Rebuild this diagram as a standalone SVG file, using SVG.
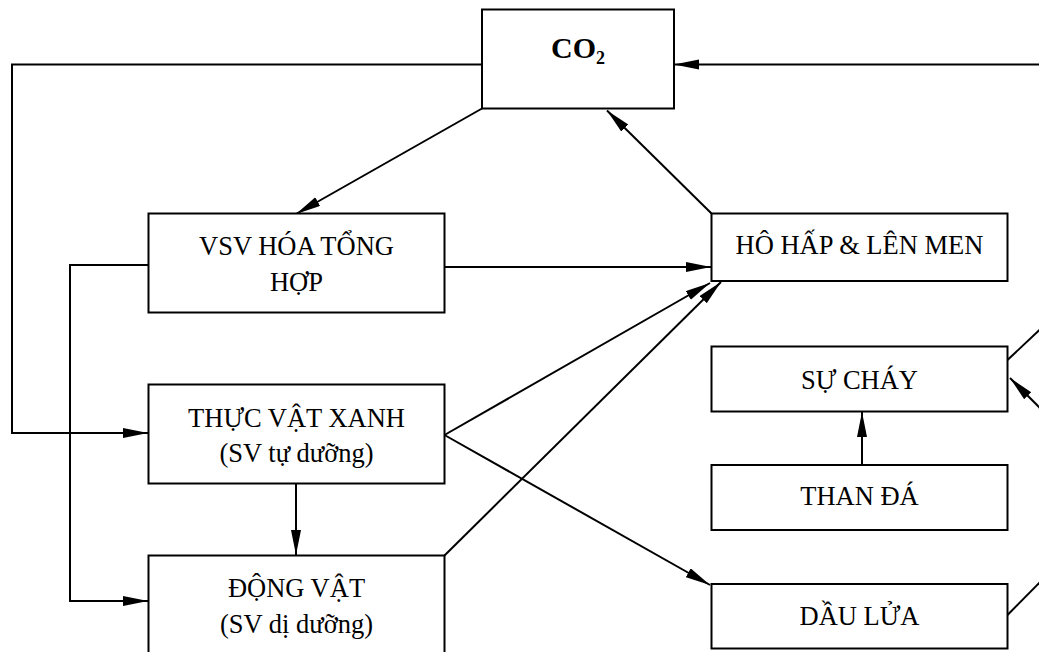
<svg xmlns="http://www.w3.org/2000/svg" width="1039" height="652" viewBox="0 0 1039 652">
  <style>
    .box { fill: #ffffff; stroke: #000000; stroke-width: 2; }
    .lbl { font-family: "Liberation Serif", "Times New Roman", serif; font-size: 26.5px; fill: #000000; text-anchor: middle; }
    .co2 { font-family: "Liberation Serif", "Times New Roman", serif; font-size: 30px; font-weight: bold; fill: #000000; text-anchor: middle; }
    .sub { font-size: 18px; }
    .link { fill: none; stroke: #000000; stroke-width: 2; }
    .arr { marker-end: url(#head); }
  </style>
  <defs>
    <marker id="head" markerUnits="userSpaceOnUse" markerWidth="26" markerHeight="11" refX="25" refY="5" orient="auto">
      <path d="M0,0 L25,5 L0,10 Z" fill="#000000"/>
    </marker>
  </defs>

  <rect width="1039" height="652" fill="#ffffff"/>

  <!-- connectors -->
  <g id="connectors">
    <polyline class="link arr" points="482,64.5 12,64.5 12,433 148,433"/>
    <line class="link arr" x1="1045" y1="64.5" x2="674" y2="64.5"/>
    <line class="link arr" x1="482" y1="108.5" x2="296" y2="214"/>
    <line class="link arr" x1="711.5" y1="213.5" x2="607" y2="110.5"/>
    <line class="link arr" x1="444.5" y1="267" x2="711" y2="267"/>
    <line class="link arr" x1="444.5" y1="435" x2="710" y2="283"/>
    <line class="link arr" x1="444.5" y1="555.5" x2="721" y2="282"/>
    <line class="link arr" x1="444.5" y1="435" x2="710" y2="585"/>
    <line class="link arr" x1="296" y1="483.5" x2="296" y2="555"/>
    <polyline class="link arr" points="148.5,265 70,265 70,601 148,601"/>
    <line class="link arr" x1="862" y1="465" x2="862" y2="412"/>
    <line class="link" x1="1007.5" y1="360" x2="1050" y2="320"/>
    <line class="link arr" x1="1050" y1="418" x2="1010" y2="378"/>
    <line class="link" x1="1007.5" y1="615" x2="1050" y2="572"/>
  </g>

  <!-- nodes -->
  <g id="node-co2">
    <rect class="box" x="482" y="9.5" width="192" height="99"/>
    <text class="co2" x="578" y="57.5">CO<tspan class="sub" dy="6">2</tspan></text>
  </g>
  <g id="node-vsv">
    <rect class="box" x="148.5" y="213.5" width="296" height="99"/>
    <text class="lbl" x="296.5" y="255">VSV HÓA TỔNG</text>
    <text class="lbl" x="296.5" y="290.5">HỢP</text>
  </g>
  <g id="node-thucvat">
    <rect class="box" x="148.5" y="384.5" width="296" height="99"/>
    <text class="lbl" x="296.5" y="426.5">THỰC VẬT XANH</text>
    <text class="lbl" x="296.5" y="461.5">(SV tự dưỡng)</text>
  </g>
  <g id="node-dongvat">
    <rect class="box" x="148.5" y="555.5" width="296" height="110"/>
    <text class="lbl" x="296.5" y="596.5">ĐỘNG VẬT</text>
    <text class="lbl" x="296.5" y="633">(SV dị dưỡng)</text>
  </g>
  <g id="node-hohap">
    <rect class="box" x="711.5" y="213.5" width="296" height="67.5"/>
    <text class="lbl" x="859.5" y="253.5">HÔ HẤP &amp; LÊN MEN</text>
  </g>
  <g id="node-suchay">
    <rect class="box" x="711.5" y="346.5" width="296" height="65"/>
    <text class="lbl" x="859.5" y="388.5">SỰ CHÁY</text>
  </g>
  <g id="node-thanda">
    <rect class="box" x="711.5" y="465" width="296" height="65"/>
    <text class="lbl" x="859.5" y="505">THAN ĐÁ</text>
  </g>
  <g id="node-daulua">
    <rect class="box" x="711.5" y="584" width="296" height="64.5"/>
    <text class="lbl" x="859.5" y="625">DẦU LỬA</text>
  </g>
</svg>
